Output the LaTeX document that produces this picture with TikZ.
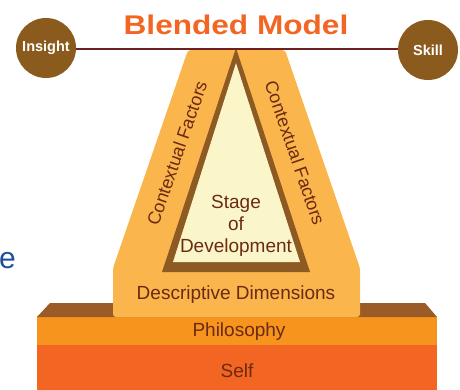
\documentclass[tikz,border=0pt]{standalone}
\usepackage{fontspec}
\setmainfont{Liberation Sans}
\definecolor{outerOr}{HTML}{FAB54C}
\definecolor{paleY}{HTML}{FBF6C9}
\definecolor{triBrown}{HTML}{8C5A22}
\definecolor{slabBrown}{HTML}{9A5B27}
\definecolor{philOr}{HTML}{F7941D}
\definecolor{selfOr}{HTML}{F26522}
\definecolor{circBrown}{HTML}{8B5B1E}
\definecolor{titleOr}{HTML}{F26522}
\definecolor{lineRed}{HTML}{6E1F1F}
\definecolor{txtBrown}{HTML}{6B2A12}
\definecolor{blueE}{HTML}{1F4E99}
\tikzset{
  lbl/.style={font=\fontsize{19}{22}\selectfont, text=txtBrown, inner sep=0pt, align=center},
  ctx/.style={font=\fontsize{18}{20}\selectfont, text=txtBrown, inner sep=0pt},
  endcirc/.style={circle, fill=circBrown, minimum size=60pt, inner sep=0pt, text=white, font=\fontsize{14.5}{16}\selectfont\bfseries}
}
\begin{document}
\begin{tikzpicture}[x=1pt,y=-1pt]
\useasboundingbox (0,0) rectangle (460,390);
% base layers
\fill[selfOr] (37,345) rectangle (437,390);
\fill[philOr] (37,317) rectangle (437,345);
\fill[slabBrown] (50,303) -- (425,303) -- (437,317) -- (37,317) -- cycle;
% outer A shape
\fill[outerOr, rounded corners=3pt] (188,50) -- (285,50) -- (360,268) -- (360,317) -- (113,317) -- (113,268) -- cycle;
% inner triangle
\fill[triBrown] (236,48) -- (310,272) -- (162,272) -- cycle;
\fill[paleY] (236,63) -- (300,262) -- (173,262) -- cycle;
% connector line and end circles
\node[endcirc] (insight) at (46,48) {Insight};
\node[endcirc] (skill) at (428,50) {Skill};
\draw[lineRed, line width=2.5pt] (insight.east |- 0,49) -- (skill.west |- 0,49);
% title
\node[font=\fontsize{27}{30}\selectfont\bfseries, text=titleOr, xscale=1.17, inner sep=0pt] (title) at (236,25) {Blended Model};
% labels
\node[ctx, rotate=71] (ctxL) at (177,153) {Contextual Factors};
\node[ctx, rotate=-71] (ctxR) at (295,153) {Contextual Factors};
\node[lbl] (stage) at (236,226) {Stage\\of\\Development};
\node[lbl] (desc) at (236,295) {Descriptive Dimensions};
\node[lbl] (phil) at (239,332) {Philosophy};
\node[lbl] (self) at (237,371) {Self};
\node[font=\fontsize{30}{32}\selectfont, text=blueE, inner sep=0pt, anchor=west] (frag) at (-1,261) {e};
\end{tikzpicture}
\end{document}
